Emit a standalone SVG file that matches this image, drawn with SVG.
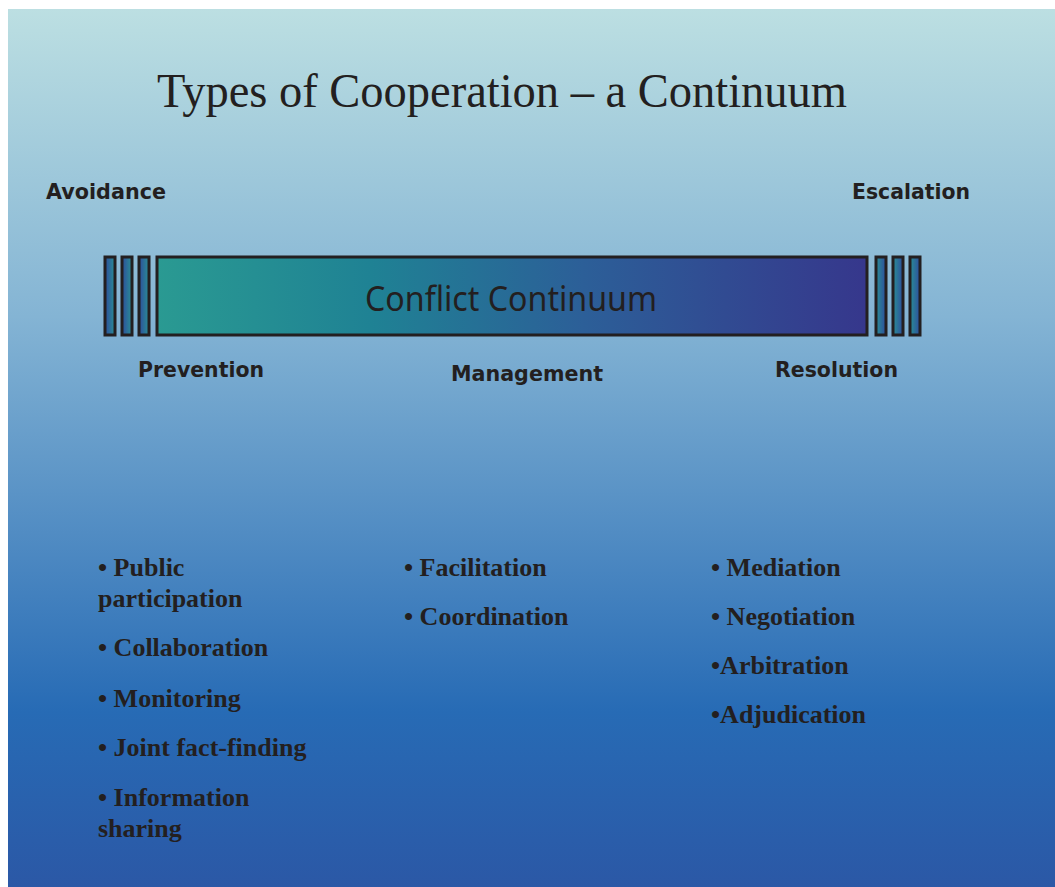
<svg xmlns="http://www.w3.org/2000/svg" width="1055" height="887" viewBox="0 0 1055 887">
<defs>
<linearGradient id="bg" x1="0" y1="0" x2="0" y2="1">
<stop offset="0" stop-color="#bcdfe2"/>
<stop offset="0.35" stop-color="#84b4d4"/>
<stop offset="0.8" stop-color="#276bb5"/>
<stop offset="1" stop-color="#2b58a6"/>
</linearGradient>
<linearGradient id="bar" x1="0" y1="0" x2="1" y2="0">
<stop offset="0" stop-color="#2a9a92"/>
<stop offset="0.3" stop-color="#1f8294"/>
<stop offset="0.6" stop-color="#2c5f98"/>
<stop offset="1" stop-color="#36378c"/>
</linearGradient>
<linearGradient id="sbL" x1="0" y1="0" x2="1" y2="0">
<stop offset="0" stop-color="#2d4e9c"/>
<stop offset="1" stop-color="#2a8e95"/>
</linearGradient>
<linearGradient id="sbR" x1="0" y1="0" x2="1" y2="0">
<stop offset="0" stop-color="#2a8e95"/>
<stop offset="1" stop-color="#2d4e9c"/>
</linearGradient>
</defs>
<style>
.sb{stroke:#231f20;stroke-width:3}
.lbl{font-family:"DejaVu Sans","Liberation Sans",sans-serif;font-weight:bold;font-size:21px;fill:#231f20}
.bl{font-family:"Liberation Serif",serif;font-weight:bold;font-size:26px;fill:#231f20}
</style>
<rect x="0" y="0" width="1055" height="887" fill="#ffffff"/>
<rect x="8" y="9" width="1047" height="878" fill="url(#bg)"/>
<text x="502" y="107" text-anchor="middle" font-family="Liberation Serif,serif" font-size="48" fill="#231f20" textLength="690" lengthAdjust="spacingAndGlyphs">Types of Cooperation – a Continuum</text>
<g id="continuum">
<rect class="sb" x="105" y="257" width="10" height="78" fill="url(#sbL)"/>
<rect class="sb" x="122" y="257" width="10" height="78" fill="url(#sbL)"/>
<rect class="sb" x="139" y="257" width="10" height="78" fill="url(#sbL)"/>
<rect class="sb" x="157" y="257" width="710" height="78" fill="url(#bar)"/>
<rect class="sb" x="876" y="257" width="10" height="78" fill="url(#sbR)"/>
<rect class="sb" x="893" y="257" width="10" height="78" fill="url(#sbR)"/>
<rect class="sb" x="910" y="257" width="10" height="78" fill="url(#sbR)"/>
<text x="511" y="311" text-anchor="middle" font-family="Noto Sans,DejaVu Sans,sans-serif" font-size="34" fill="#231f20" textLength="292" lengthAdjust="spacingAndGlyphs">Conflict Continuum</text>
</g>
<g id="labels">
<text class="lbl" x="46" y="199" textLength="120" lengthAdjust="spacingAndGlyphs">Avoidance</text>
<text class="lbl" x="852" y="199" textLength="118" lengthAdjust="spacingAndGlyphs">Escalation</text>
<text class="lbl" x="138" y="377" textLength="126" lengthAdjust="spacingAndGlyphs">Prevention</text>
<text class="lbl" x="451" y="381" textLength="152" lengthAdjust="spacingAndGlyphs">Management</text>
<text class="lbl" x="775" y="377" textLength="123" lengthAdjust="spacingAndGlyphs">Resolution</text>
</g>
<g id="prevention-list">
<text class="bl" x="98" y="576">• Public</text>
<text class="bl" x="98" y="607">participation</text>
<text class="bl" x="98" y="656">• Collaboration</text>
<text class="bl" x="98" y="707">• Monitoring</text>
<text class="bl" x="98" y="756">• Joint fact-finding</text>
<text class="bl" x="98" y="806">• Information</text>
<text class="bl" x="98" y="837">sharing</text>
</g>
<g id="management-list">
<text class="bl" x="404" y="576">• Facilitation</text>
<text class="bl" x="404" y="625">• Coordination</text>
</g>
<g id="resolution-list">
<text class="bl" x="711" y="576">• Mediation</text>
<text class="bl" x="711" y="625">• Negotiation</text>
<text class="bl" x="711" y="674">•Arbitration</text>
<text class="bl" x="711" y="723">•Adjudication</text>
</g>
</svg>
